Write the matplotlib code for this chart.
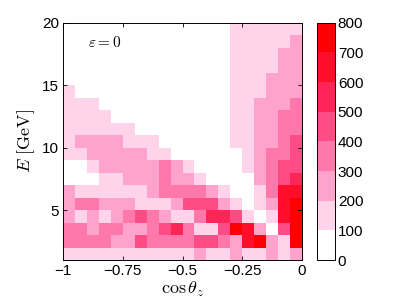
import numpy as np
import matplotlib
matplotlib.use('Agg')
import matplotlib.pyplot as plt
from matplotlib.colors import ListedColormap, BoundaryNorm

plt.rcParams['mathtext.fontset'] = 'cm'
plt.rcParams['font.family'] = ['Liberation Sans', 'DejaVu Sans']

# bin edges
cos_edges = [-1.0, -0.95, -0.9, -0.85, -0.8, -0.75, -0.7, -0.65, -0.6, -0.55, -0.5,
             -0.45, -0.4, -0.35, -0.3, -0.25, -0.2, -0.15, -0.1, -0.05, 0.0]
E_edges = [1, 2, 3, 4, 5, 6, 7, 8, 9, 10, 11, 12, 13, 14, 15, 16, 17, 18, 19, 20]

# event counts per bin, rows from E=1-2 GeV (bottom) to 19-20 GeV (top)
counts = [
    [150, 150, 150, 150, 150, 150, 150, 150, 150, 150, 150, 250, 150, 150, 250, 150, 150, 250, 150, 250],
    [350, 350, 350, 350, 250, 250, 450, 350, 350, 350, 350, 450, 450, 350, 250, 650, 750, 250, 150, 750],
    [350, 350, 250, 350, 350, 250, 250, 350, 450, 550, 350, 150, 150, 450, 750, 650, 250, 50, 450, 750],
    [250, 150, 250, 150, 250, 350, 450, 350, 250, 150, 150, 350, 550, 550, 450, 150, 50, 150, 650, 750],
    [250, 350, 350, 250, 250, 250, 150, 150, 150, 250, 450, 450, 450, 250, 150, 50, 150, 250, 650, 750],
    [250, 150, 150, 150, 150, 150, 150, 250, 350, 350, 350, 350, 250, 150, 50, 50, 150, 350, 650, 650],
    [50, 50, 50, 150, 150, 250, 250, 250, 350, 250, 250, 150, 50, 50, 50, 50, 250, 350, 450, 550],
    [50, 50, 150, 250, 250, 250, 250, 250, 350, 250, 150, 50, 50, 50, 50, 150, 250, 350, 450, 450],
    [150, 150, 250, 250, 250, 250, 250, 150, 150, 50, 50, 50, 50, 50, 50, 150, 250, 350, 350, 450],
    [150, 250, 250, 250, 250, 150, 150, 150, 50, 50, 50, 50, 50, 50, 150, 150, 250, 250, 350, 450],
    [150, 150, 150, 150, 150, 150, 50, 50, 50, 50, 50, 50, 50, 50, 150, 150, 250, 250, 350, 350],
    [150, 150, 150, 150, 50, 50, 50, 50, 50, 50, 50, 50, 50, 50, 150, 150, 250, 250, 350, 350],
    [150, 150, 150, 50, 50, 50, 50, 50, 50, 50, 50, 50, 50, 50, 150, 150, 250, 250, 250, 350],
    [150, 50, 50, 50, 50, 50, 50, 50, 50, 50, 50, 50, 50, 50, 150, 150, 150, 250, 250, 250],
    [50, 50, 50, 50, 50, 50, 50, 50, 50, 50, 50, 50, 50, 50, 150, 150, 150, 250, 250, 250],
    [50, 50, 50, 50, 50, 50, 50, 50, 50, 50, 50, 50, 50, 50, 150, 150, 150, 150, 250, 250],
    [50, 50, 50, 50, 50, 50, 50, 50, 50, 50, 50, 50, 50, 50, 150, 150, 150, 150, 250, 250],
    [50, 50, 50, 50, 50, 50, 50, 50, 50, 50, 50, 50, 50, 50, 150, 150, 150, 150, 150, 250],
    [50, 50, 50, 50, 50, 50, 50, 50, 50, 50, 50, 50, 50, 50, 150, 150, 150, 150, 150, 150],
]

levels = [0, 100, 200, 300, 400, 500, 600, 700, 800]
level_colors = ['#ffffff', '#ffd3e9', '#ffa3cd', '#ff78ab', '#ff4b86',
                '#ff2657', '#ff0e2c', '#ff0000']

x_ticks = [-1, -0.75, -0.5, -0.25, 0]
x_ticklabels = ['\u22121', '\u22120.75', '\u22120.5', '\u22120.25', '0']
y_ticks = [5, 10, 15, 20]

fig = plt.figure(figsize=(3.99, 3.0), dpi=100)
ax = fig.add_axes([0.1587, 0.1333, 0.5975, 0.791])
cmap = ListedColormap(level_colors)
norm = BoundaryNorm(levels, cmap.N)
mesh = ax.pcolormesh(cos_edges, E_edges, np.array(counts), cmap=cmap, norm=norm,
                     antialiased=False, edgecolors='none')
ax.set_xlim(-1, 0)
ax.set_ylim(1, 20)
ax.set_xticks(x_ticks)
ax.set_xticklabels(x_ticklabels)
ax.set_yticks(y_ticks)
ax.tick_params(direction='in', length=3, width=0.6, top=True, right=True,
               labelsize=11, pad=3)
for s in ax.spines.values():
    s.set_linewidth(0.7)
ax.set_xlabel(r'$\cos\theta_z$', fontsize=13, labelpad=1)
ax.set_ylabel(r'$E\ \mathrm{[GeV]}$', fontsize=13, labelpad=4)
ax.text(-0.895, 18.45, r'$\varepsilon=0$', fontsize=11, va='center', ha='left')

cax = fig.add_axes([0.7937, 0.1333, 0.0459, 0.791])
cb = fig.colorbar(mesh, cax=cax, ticks=levels)
cb.ax.tick_params(direction='in', length=0, labelsize=11, pad=2)
cb.outline.set_linewidth(0.7)

fig.savefig('out.png', dpi=100)
